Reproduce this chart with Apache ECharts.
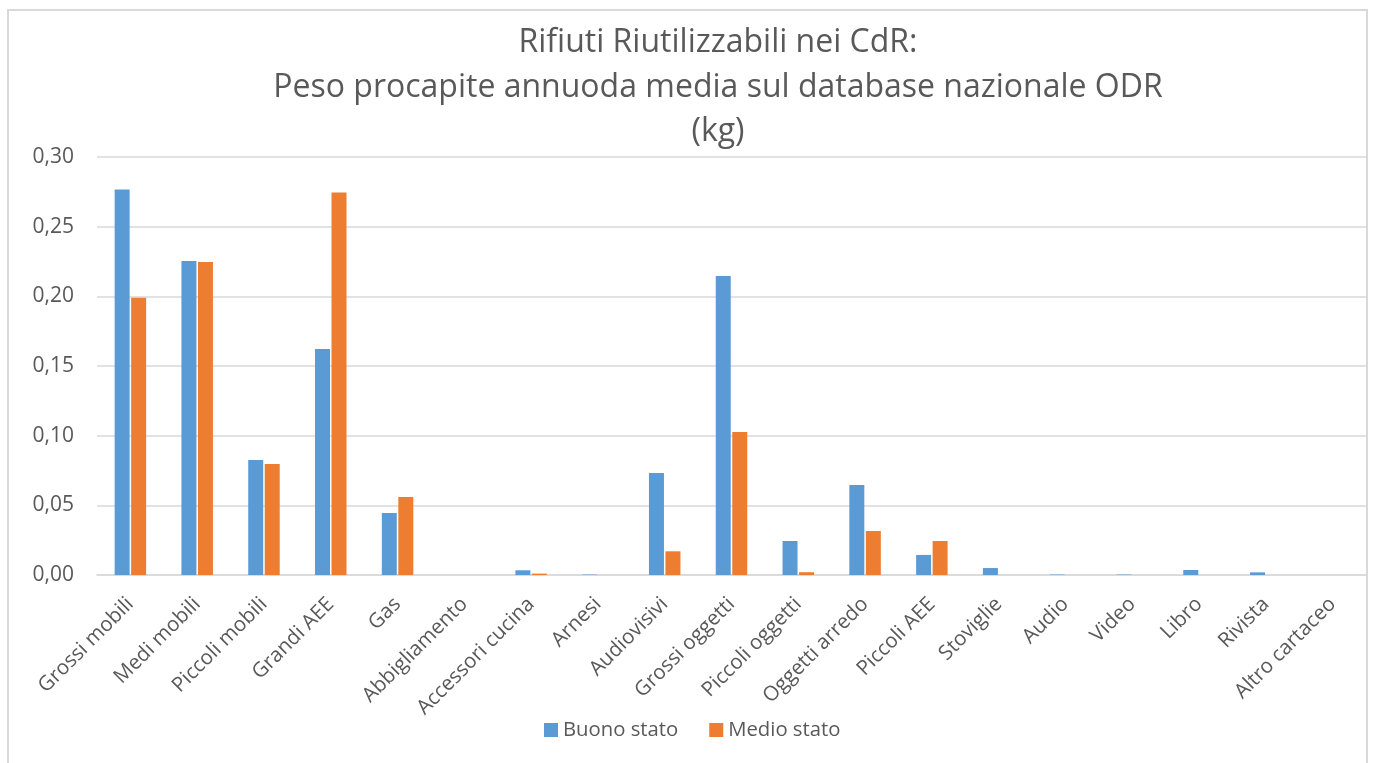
<!DOCTYPE html>
<html>
<head>
<meta charset="utf-8">
<script src="https://cdn.jsdelivr.net/npm/echarts@6/dist/echarts.min.js"></script>
<style>
html,body{margin:0;padding:0;background:#fff;}
#c{width:1373px;height:763px;}
</style>
</head>
<body>
<div id="c"></div>
<script>
const categories = ["Grossi mobili","Medi mobili","Piccoli mobili","Grandi AEE","Gas","Abbigliamento","Accessori cucina","Arnesi","Audiovisivi","Grossi oggetti","Piccoli oggetti","Oggetti arredo","Piccoli AEE","Stoviglie","Audio","Video","Libro","Rivista","Altro cartaceo"];
const buonoStato = [0.2767,0.2254,0.0826,0.1622,0.0445,0,0.0034,0.0003,0.0732,0.2146,0.0244,0.0646,0.0144,0.0050,0.0003,0.0003,0.0036,0.0019,0];
const medioStato = [0.1989,0.2247,0.0797,0.2746,0.0560,0,0.0010,0,0.0170,0.1027,0.0020,0.0316,0.0244,0,0,0,0,0,0];
const yTicks = {min:0, max:0.30, interval:0.05};
const titleLines = ["Rifiuti Riutilizzabili nei CdR:","Peso procapite annuoda media sul database nazionale ODR","(kg)"];

const chart = echarts.init(document.getElementById('c'));
const FONT = "'Open Sans', sans-serif";
const titleCenters = [43, 88, 132];
chart.setOption({
  animation:false,
  textStyle:{fontFamily:FONT},
  graphic:[{type:'rect',shape:{x:8,y:10,width:1359,height:800},style:{fill:'none',stroke:'#d9d9d9',lineWidth:2},silent:true}]
    .concat(titleLines.map((t,i)=>({type:'text',x:718,y:titleCenters[i],silent:true,
      style:{text:t,textAlign:'center',textVerticalAlign:'middle',fontFamily:FONT,fontSize:32,fill:'#595959'}}))),
  legend:{bottom:18,left:539,itemWidth:14,itemHeight:14,itemGap:31,icon:'rect',
    textStyle:{fontFamily:FONT,fontSize:20.3,color:'#595959'}},
  grid:{left:97,right:7,top:157,bottom:188,containLabel:false},
  xAxis:{type:'category',data:categories,
    axisLine:{lineStyle:{color:'#d9d9d9',width:1.5}},axisTick:{show:false},
    axisLabel:{rotate:45,fontFamily:FONT,fontSize:20.5,color:'#595959',margin:26,interval:0}},
  yAxis:{type:'value',min:yTicks.min,max:yTicks.max,interval:yTicks.interval,
    axisLine:{show:false},axisTick:{show:false},
    splitLine:{lineStyle:{color:'#d9d9d9',width:1.5}},
    axisLabel:{fontFamily:FONT,fontSize:21,color:'#595959',margin:23,
      formatter:v=>v.toFixed(2).replace('.',',')}},
  series:[
    {name:'Buono stato',type:'bar',data:buonoStato,barWidth:15,barGap:'10%',itemStyle:{color:'#5b9bd5'}},
    {name:'Medio stato',type:'bar',data:medioStato,barWidth:15,barGap:'10%',itemStyle:{color:'#ed7d31'}}
  ]
});
</script>
</body>
</html>
